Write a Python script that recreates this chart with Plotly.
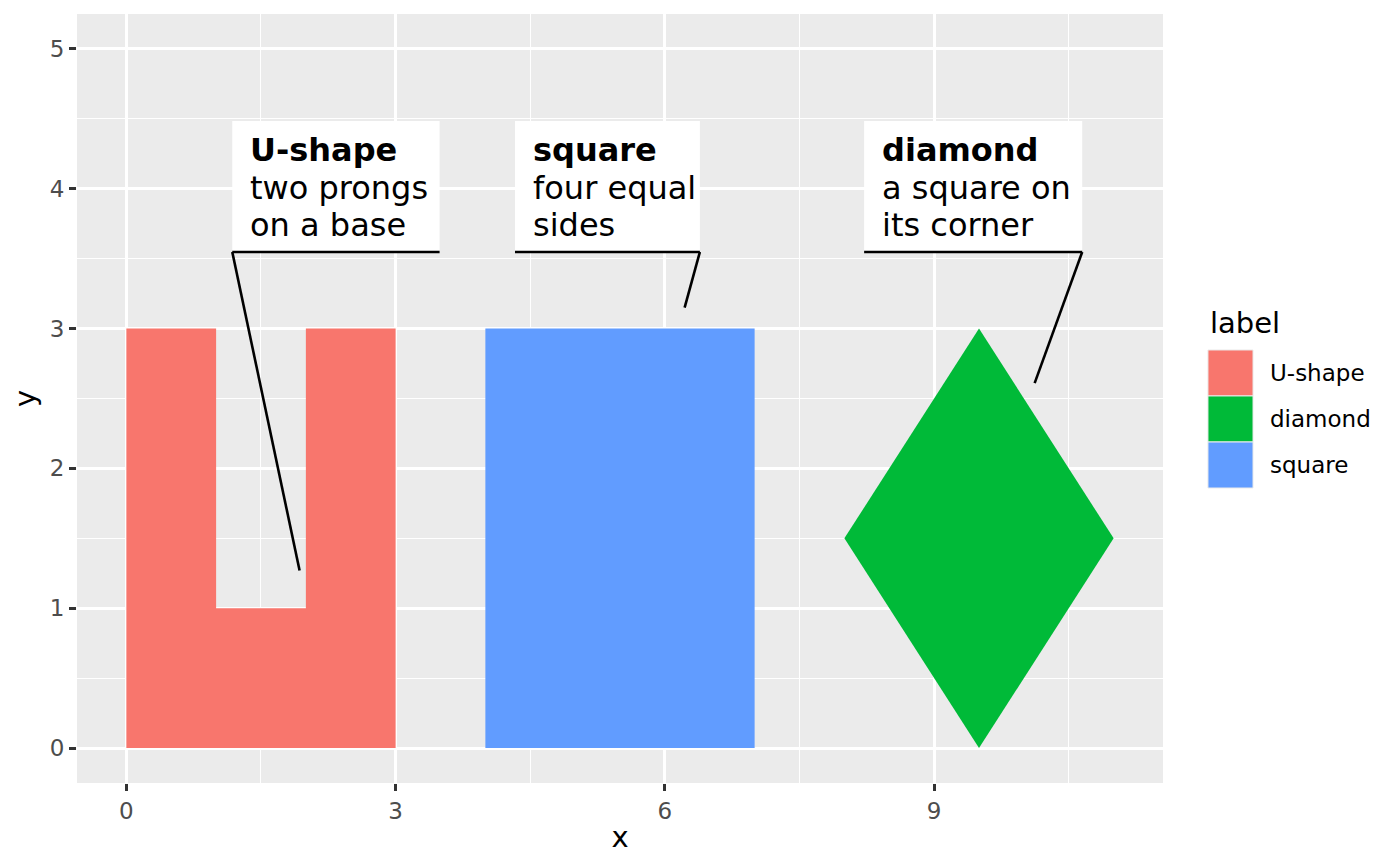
import plotly.graph_objects as go

# shape outlines (polygon vertices)
labels = ["U-shape", "diamond", "square"]
colors = ["#F8766D", "#00BA38", "#619CFF"]
descriptions = {
    "U-shape": ["two prongs", "on a base"],
    "square": ["four equal", "sides"],
    "diamond": ["a square on", "its corner"],
}
shape_x = {
    "U-shape": [0, 3, 3, 2, 2, 1, 1, 0],
    "square": [4, 7, 7, 4],
    "diamond": [8, 9.5, 11, 9.5],
}
shape_y = {
    "U-shape": [0, 0, 3, 3, 1, 1, 3, 3],
    "square": [0, 0, 3, 3],
    "diamond": [1.5, 0, 1.5, 3],
}

# label boxes: edges, text start, point the connector goes to, side it leaves from
label_boxes = {
    "U-shape": dict(x0=1.18, x1=3.49, tx=1.36, px=1.93, py=1.27, side="left"),
    "square": dict(x0=4.33, x1=6.39, tx=4.51, px=6.22, py=3.15, side="right"),
    "diamond": dict(x0=8.22, x1=10.65, tx=8.40, px=10.12, py=2.61, side="right"),
}
box_y0, box_y1 = 3.548, 4.485
line_ys = [4.278, 4.006, 3.741]

font = "DejaVu Sans"
fig = go.Figure()

for lab, col in zip(labels, colors):
    xs = shape_x[lab] + [shape_x[lab][0]]
    ys = shape_y[lab] + [shape_y[lab][0]]
    fig.add_trace(go.Scatter(
        x=xs, y=ys, fill="toself", fillcolor=col, mode="lines",
        line=dict(width=0, color=col), name=lab, showlegend=False,
        hoverinfo="name",
    ))

shapes = []
annotations = []
for lab in ["U-shape", "square", "diamond"]:
    b = label_boxes[lab]
    shapes.append(dict(type="rect", xref="x", yref="y", x0=b["x0"], x1=b["x1"],
                       y0=box_y0, y1=box_y1, fillcolor="white",
                       line=dict(width=0), layer="above"))
    shapes.append(dict(type="line", xref="x", yref="y", x0=b["x0"], x1=b["x1"],
                       y0=box_y0, y1=box_y0, line=dict(color="black", width=2.6),
                       layer="above"))
    sx = b["x0"] if b["side"] == "left" else b["x1"]
    shapes.append(dict(type="line", xref="x", yref="y", x0=sx, y0=box_y0,
                       x1=b["px"], y1=b["py"], line=dict(color="black", width=2.6),
                       layer="above"))
    texts = ["<b>%s</b>" % lab] + descriptions[lab]
    for t, ty in zip(texts, line_ys):
        annotations.append(dict(x=b["tx"], y=ty, xref="x", yref="y", text=t,
                                showarrow=False, xanchor="left", yanchor="middle",
                                font=dict(family=font, size=32, color="black")))

# legend drawn by hand to look like ggplot's
key_x0, key_x1 = 1.0414, 1.0829
key_tops = [0.5631, 0.5033, 0.4434]
key_h = 0.0598
annotations.append(dict(x=key_x0, y=0.5982, xref="paper", yref="paper", text="label",
                        showarrow=False, xanchor="left", yanchor="middle",
                        font=dict(family=font, size=29, color="black")))
for lab, col, top in zip(labels, colors, key_tops):
    shapes.append(dict(type="rect", xref="paper", yref="paper", x0=key_x0, x1=key_x1,
                       y0=top - key_h, y1=top, fillcolor=col,
                       line=dict(color="#EBEBEB", width=1)))
    annotations.append(dict(x=1.0967, y=top - key_h / 2, xref="paper", yref="paper",
                            text=lab, showarrow=False, xanchor="left", yanchor="middle",
                            font=dict(family=font, size=23, color="black")))

axis_common = dict(
    showgrid=True, gridcolor="white", gridwidth=2.6, zeroline=False,
    ticks="outside", ticklen=7, tickwidth=2.6, tickcolor="#333333",
    tickfont=dict(family=font, size=23, color="#4D4D4D"),
    showline=False,
)

# page body has an 8px margin, so the figure is offset by 8px
fig.update_layout(
    width=1400, height=866,
    margin=dict(l=69, r=245, t=6, b=91),
    plot_bgcolor="#EBEBEB", paper_bgcolor="white",
    showlegend=False,
    shapes=shapes, annotations=annotations,
    xaxis=dict(range=[-0.55, 11.55], tick0=0, dtick=3,
               minor=dict(tick0=0, dtick=1.5, showgrid=True, gridcolor="white",
                          gridwidth=1.3),
               title=dict(text="x", font=dict(family=font, size=29, color="black"),
                          standoff=4),
               **axis_common),
    yaxis=dict(range=[-0.25, 5.25], tick0=0, dtick=1,
               minor=dict(tick0=0, dtick=0.5, showgrid=True, gridcolor="white",
                          gridwidth=1.3),
               title=dict(text="y", font=dict(family=font, size=29, color="black"),
                          standoff=10),
               **axis_common),
)

fig.write_html("out.html")
